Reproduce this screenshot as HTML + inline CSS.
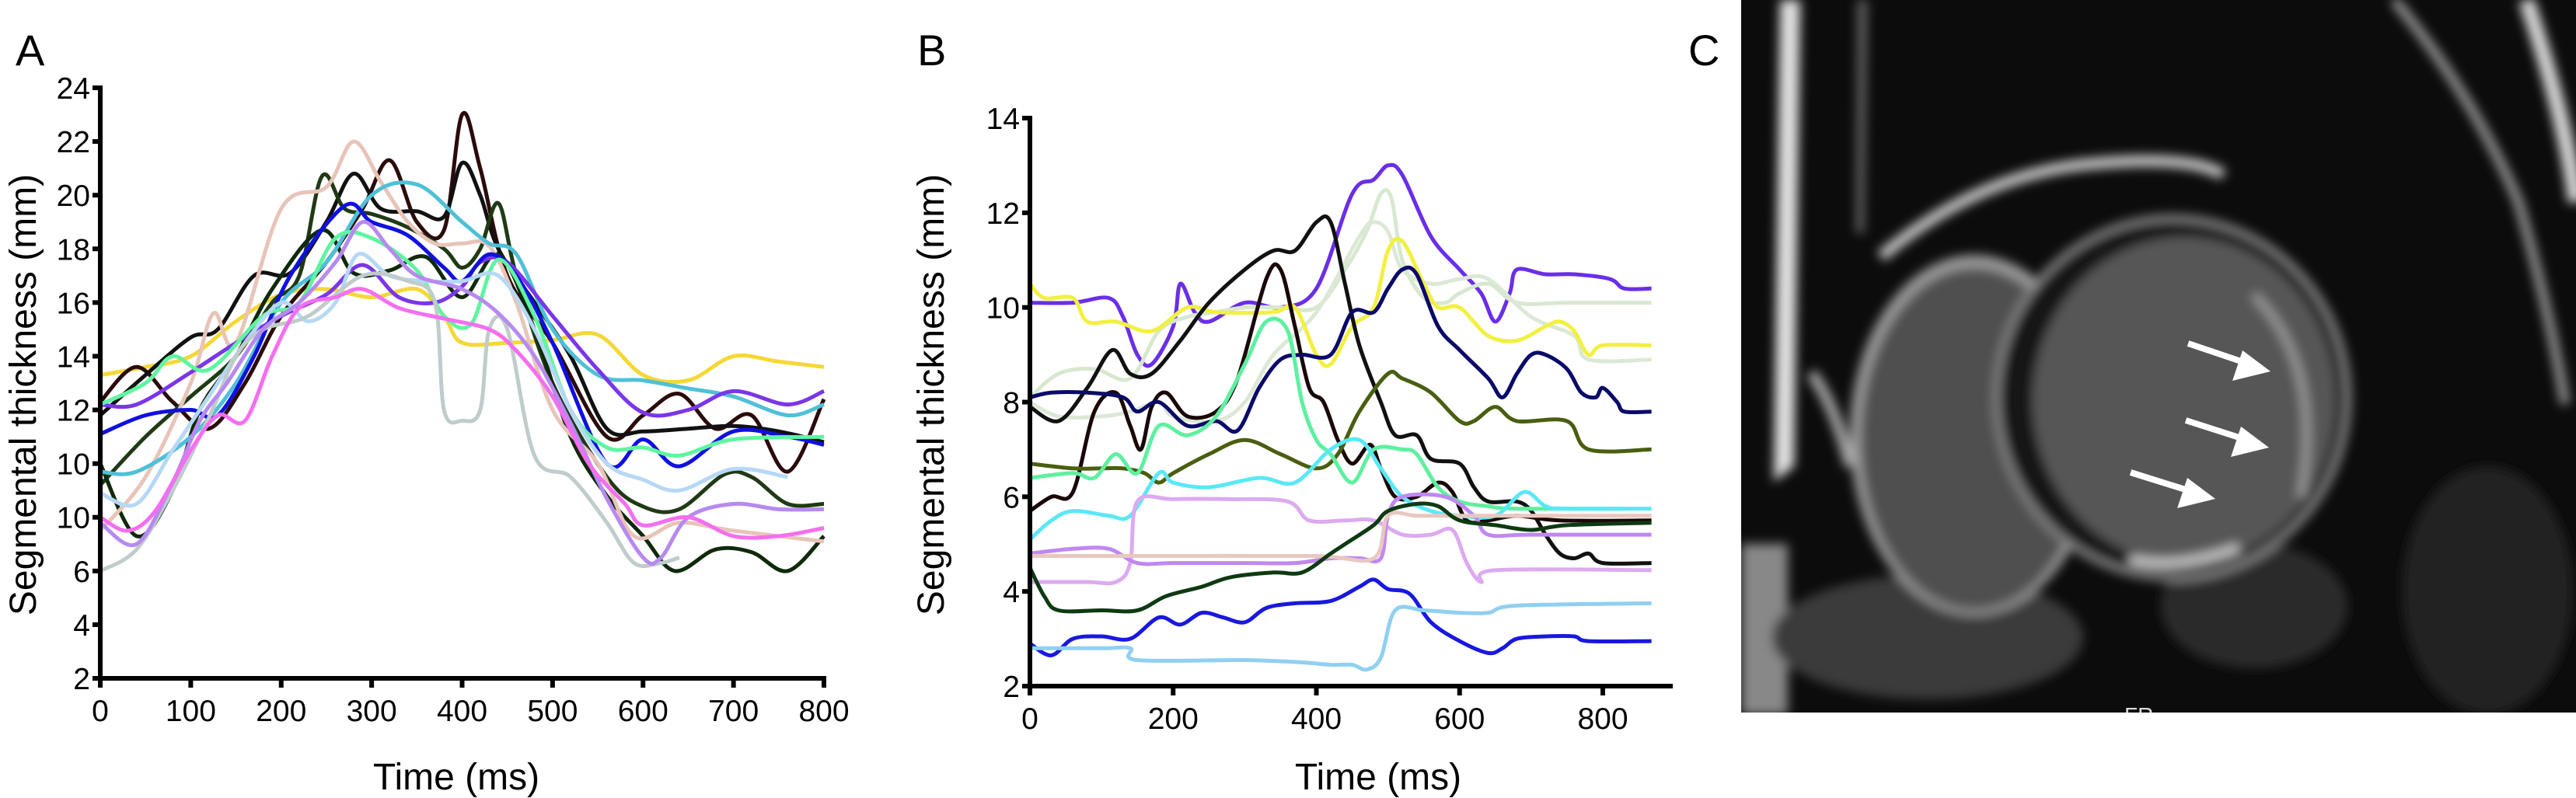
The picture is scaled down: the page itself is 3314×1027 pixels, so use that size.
<!DOCTYPE html>
<html><head><meta charset="utf-8"><style>
html,body{margin:0;padding:0;background:#fff;}
svg{display:block;font-family:"Liberation Sans",sans-serif;}
</style></head><body>
<svg id="fig" width="3314" height="1027" viewBox="0 0 3314 1027">
<text x="20" y="84" font-size="56">A</text>
<text x="1180" y="84" font-size="56">B</text>
<text x="2172" y="84" font-size="56">C</text>
<g id="chartA"></g>
<g id="chartB"></g>
<g id="mri">
 <defs>
  <clipPath id="mclip"><rect x="2240" y="0" width="1074" height="917"/></clipPath>
  <filter id="blur6" x="-20%" y="-20%" width="140%" height="140%"><feGaussianBlur stdDeviation="7"/></filter>
 </defs>
 <g clip-path="url(#mclip)">
  <rect x="2240" y="0" width="1074" height="917" fill="#0c0c0c"/>
  <g filter="url(#blur6)">
   <rect x="2240" y="700" width="60" height="220" fill="#888"/>
   <path d="M2290 0 L2316 0 L2308 600 L2282 620 Z" fill="#e0e0e0"/>
   <path d="M2390 0 L2402 0 L2398 300 L2388 300 Z" fill="#666"/>
   <ellipse cx="2480" cy="820" rx="200" ry="80" fill="#3a3a3a"/>
   <ellipse cx="2900" cy="780" rx="120" ry="80" fill="#2a2a2a"/>
   <ellipse cx="3200" cy="760" rx="110" ry="160" fill="#242424"/>
   <ellipse cx="2540" cy="560" rx="160" ry="232" fill="#9a9a9a"/>
   <ellipse cx="2540" cy="565" rx="146" ry="220" fill="#505050"/>
   <ellipse cx="2795" cy="512" rx="230" ry="236" fill="#8a8a8a"/>
   <ellipse cx="2795" cy="512" rx="222" ry="228" fill="#151515"/>
   <ellipse cx="2810" cy="515" rx="195" ry="210" fill="#565656"/>
   <path d="M2420 330 Q2550 220 2700 210 Q2820 200 2860 225" stroke="#cfcfcf" stroke-width="14" fill="none"/>
   <path d="M3080 0 Q3180 120 3240 260 Q3280 400 3300 520" stroke="#999" stroke-width="12" fill="none"/>
   <path d="M3250 0 Q3300 150 3314 260" stroke="#d8d8d8" stroke-width="20" fill="none"/>
   <path d="M2330 480 Q2360 520 2380 600" stroke="#aaa" stroke-width="14" fill="none"/>
   <path d="M2740 720 Q2800 735 2880 705" stroke="#c8c8c8" stroke-width="12" fill="none"/>
   <path d="M2900 380 Q2990 470 2960 640" stroke="#a0a0a0" stroke-width="9" fill="none"/>
  </g>
  <text x="2733" y="930" font-size="28" fill="#ddd">FR</text>
  <g stroke="#fff" stroke-width="8" fill="#fff">
   <line x1="2815" y1="442" x2="2895" y2="469"/><polygon points="2921,478 2872,490 2885,451" stroke="none"/>
   <line x1="2812" y1="541" x2="2893" y2="567"/><polygon points="2919,576 2870,588 2883,549" stroke="none"/>
   <line x1="2741" y1="608" x2="2824" y2="634"/><polygon points="2850,642 2801,654 2814,615" stroke="none"/>
  </g>
 </g>
</g>
</svg>
<script>
// ---------- Panel A data ----------
const aXTicks = [0,100,200,300,400,500,600,700,800];
const aYTicks = [2,4,6,8,10,12,14,16,18,20,22,24];
const aYTickLabels = ["2","4","6","10","10","12","14","16","18","20","22","24"];
const aColors = ["#f5d836","#2b0b0b","#111111","#1f3a14","#0f2a0a","#e8c4b8","#4fc0d8","#7a36e8","#1010e0","#5ff5a0","#b5d8f5","#c0cccc","#b68af0","#f56ef0"];
const aTimes = [
 [0,50,100,150,200,250,300,350,380,400,450,500,550,600,650,700,750,800],
 [0,40,80,120,160,200,250,290,320,350,380,400,420,450,500,560,600,640,680,720,760,800],
 [0,50,100,130,170,210,250,280,310,350,380,400,420,440,480,520,560,600,650,700,750,800],
 [0,50,100,150,190,220,245,270,300,340,380,400,420,440,460,500,560,600,640,690,720,760,800],
 [0,40,80,110,150,190,245,280,320,360,400,440,480,520,560,600,635,680,720,760,800],
 [0,50,100,125,150,200,250,280,310,340,370,400,430,460,500,550,590,640,700,800],
 [0,40,100,150,200,250,300,350,400,430,460,500,550,600,650,700,760,800],
 [0,40,100,150,200,250,290,330,370,400,420,450,500,550,600,650,700,760,800],
 [0,50,100,130,170,210,270,300,340,380,400,430,460,500,560,600,640,700,760,800],
 [0,50,80,120,180,220,260,300,350,380,410,440,480,520,560,600,640,700,800],
 [0,40,80,120,160,200,230,260,285,320,360,400,440,480,520,560,600,640,700,760],
 [0,40,80,120,150,180,230,290,340,370,380,400,420,430,450,480,520,560,590,620,640],
 [0,40,80,110,140,180,220,260,290,320,350,400,440,480,520,560,600,620,650,700,750,800],
 [0,30,60,100,130,160,190,220,260,290,330,380,430,460,500,540,580,600,650,700,750,800]
];
const aValues = [
 [13.3,13.6,14,15.3,16.3,16.5,16.2,16.5,15.5,14.5,14.5,14.6,14.8,13.3,13.1,14,13.8,13.6],
 [12.3,13.6,12.3,11.3,13,15.5,17.5,19.5,21.3,19,18.7,23,21,17,14.5,11,11.8,12.6,11.3,11.8,9.7,12.4],
 [11.8,13.3,14.7,15,17,17.1,19,20.8,19.5,19.4,19.2,21.2,20,18,16,14,11.3,11.2,11.3,11.4,11.2,10.8],
 [9.2,11,12.5,14,16,17,20.7,19.5,19.3,18.8,18,17.3,18,19.7,17,13,9.5,8.4,8.3,9.6,9.5,8.5,8.5],
 [10,7.3,9,12,14,16.5,18.7,17.1,17.2,17.7,16.2,17.8,15,11,8.8,7.3,6,6.8,6.7,6,7.3],
 [7.5,9.5,13,15.6,14.5,19.5,20.3,22,20.5,19,18.2,18.2,18.1,16,12,10,7.3,7.8,7.5,7.1],
 [9.7,9.7,11,13,16,17.5,20,20.4,19,18.2,17.8,15,13.3,13.1,12.8,12.5,11.8,12.2],
 [12.2,12.2,13.4,14.5,15.5,16.3,17.4,16.2,16,16.6,17.5,17.5,15.5,13.5,11.9,12,12.7,12.2,12.7],
 [11.1,11.8,12,11.8,14,17,19.6,19,18.5,17.3,16.8,17.8,17,14.5,10,10.9,9.9,11.2,11,10.7],
 [12.2,13,14,13.5,15.5,16,18.4,18.4,17.2,15.5,15.2,17.6,15.5,12,10.6,10.6,10.3,10.9,11],
 [8.9,8.5,10.5,12.5,14.5,16,15.3,16,17.8,17,16.8,16.8,17,15,12,10,9.4,9,9.8,9.5],
 [6,6.8,9,11.7,14,15,15.5,17,16.8,16,12,11.6,12,15,15,10.3,9.5,7.8,6.3,6.3,6.5],
 [7.8,7,9.3,11.6,13,15,16,17.5,19,18,17,16.5,15.6,14,11.5,8.7,6.5,6.5,8,8.5,8.3,8.3],
 [8,7.5,8.2,10.5,11.8,11.6,14,15.8,16.2,16.5,15.8,15.4,15,14.2,12.5,10,8.5,7.7,8,7.3,7.3,7.6]
];
// ---------- Panel B data ----------
const bXTicks = [0,200,400,600,800];
const bYTicks = [2,4,6,8,10,12,14];
const bYTickLabels = ["2","4","6","8","10","12","14"];
const bColors = ["#6a2ee8","#d8e8d0","#dce8d6","#f2f040","#111111","#1a0808","#0a0a6a","#4a5e10","#5ef0a0","#5ae8f5","#dcaaf0","#c088f0","#e8c8c0","#0e3a12","#1818e0","#90d0f0"];
const bTimes = [
 [0,60,110,130,150,170,200,210,230,250,300,350,400,450,480,500,520,560,600,630,650,670,680,720,760,810,830,868],
 [0,40,90,140,180,220,260,300,350,400,440,470,490,505,520,550,580,600,640,680,750,868],
 [0,40,100,140,180,200,260,300,340,400,460,480,500,520,560,600,640,700,760,780,868],
 [0,20,60,80,120,170,220,260,340,370,400,420,450,480,500,520,550,570,600,640,680,720,740,760,780,800,868],
 [0,40,80,115,140,170,210,250,300,340,370,400,420,440,460,490,510,540,560,600,620,640,680,700,720,740,760,780,800,868],
 [0,30,60,90,120,140,155,170,190,220,260,290,330,350,370,390,410,430,450,475,490,510,540,570,590,610,640,680,740,868],
 [0,30,80,130,150,180,220,260,290,320,350,380,420,450,480,500,520,540,570,600,640,660,680,700,720,750,770,790,800,820,830,868],
 [0,60,100,130,160,180,200,250,300,350,400,430,460,500,520,560,600,620,650,680,750,780,868],
 [0,60,90,120,150,180,220,260,300,330,360,380,400,420,450,480,520,540,570,600,640,680,830],
 [0,30,60,110,140,180,200,250,320,370,420,460,490,520,560,600,650,690,720,750,868],
 [0,80,120,140,150,200,280,360,390,440,480,520,560,590,610,630,650,868],
 [0,60,110,150,200,300,370,420,460,490,500,520,580,620,640,700,868],
 [0,200,400,480,500,540,600,868],
 [0,20,40,100,150,190,240,280,340,380,420,440,480,500,540,570,600,650,700,750,868],
 [0,30,60,100,140,180,210,240,270,300,330,370,420,460,480,500,530,560,600,640,660,680,720,760,780,868],
 [0,100,140,150,300,380,420,450,470,490,510,550,600,640,680,868]
];
const bValues = [
 [10.1,10.1,10.2,9.8,9,8.8,9.6,10.5,9.9,9.7,10.1,10,10.4,12.4,12.7,13,12.8,11.5,10.8,10.3,9.7,10.3,10.8,10.7,10.7,10.6,10.4,10.4],
 [8.1,8.6,8.7,8.5,9.5,9.8,9.9,10,10,10,10.8,11.6,12.4,12.3,11,10.2,10.1,10.3,10.5,10.1,10.1,10.1],
 [8,7.7,7.7,7.8,8,7.7,7.6,8,9,9.9,11.5,11.8,11.6,10.8,10.5,10.6,10.6,9.8,9.4,8.9,8.9],
 [10.5,10.2,10.2,9.7,9.7,9.5,10,9.9,9.9,10,9,8.8,9.6,10,11.2,11.4,10.5,10,10,9.4,9.3,9.6,9.7,9.5,9,9.2,9.2],
 [7.9,7.6,8.3,9.1,8.6,8.6,9.3,10.1,10.8,11.2,11.2,11.8,11.8,10.5,9.2,8,7.3,7.3,6.8,6.7,6.2,5.9,5.9,5.7,5.2,4.8,4.7,4.8,4.6,4.6],
 [5.7,6,6.1,7.8,8.2,7.5,7,7.9,8.2,7.7,7.8,8.5,10.6,10.8,9.6,8.3,8,7.2,6.7,7.1,6.6,6,6,6.3,6.1,5.5,5.5,5.6,5.5,5.5],
 [8.1,8.2,8.2,8.1,7.8,8,7.5,7.6,7.4,8.3,8.9,9,9,9.9,9.9,10.4,10.8,10.7,9.6,9.1,8.5,8.1,8.6,9,9,8.7,8.2,8.1,8.3,8,7.8,7.8],
 [6.7,6.6,6.6,6.6,6.5,6.3,6.5,6.9,7.2,6.9,6.6,6.9,7.8,8.6,8.5,8.2,7.6,7.6,7.9,7.6,7.6,7,7],
 [6.4,6.5,6.4,6.9,6.5,7.5,7.3,7.7,8.8,9.7,9.5,8,7.2,6.9,6.3,7,7,6.9,6.2,5.9,5.8,5.75,5.75],
 [5.1,5.5,5.7,5.6,5.6,6.5,6.3,6.2,6.4,6.3,7,7.2,6.6,6,5.7,5.6,5.6,6.1,5.8,5.75,5.75],
 [4.2,4.2,4.2,4.6,5.9,5.95,5.95,5.9,5.5,5.5,5.5,5.2,5.2,5.3,4.6,4.2,4.45,4.45],
 [4.8,4.9,4.9,4.6,4.6,4.6,4.6,4.7,4.7,4.7,5.6,6,6,5.6,5.2,5.2,5.2],
 [4.75,4.75,4.75,4.7,5.6,5.6,5.6,5.6],
 [4.5,3.9,3.6,3.6,3.6,3.9,4.1,4.3,4.4,4.4,4.8,5,5.4,5.7,5.85,5.8,5.5,5.4,5.3,5.4,5.45],
 [2.9,2.65,3,3.05,3,3.45,3.3,3.55,3.45,3.35,3.65,3.75,3.8,4.1,4.25,4.05,3.95,3.35,2.95,2.7,2.8,3,3.05,3.05,2.95,2.95],
 [2.8,2.8,2.8,2.55,2.55,2.5,2.45,2.45,2.35,2.6,3.6,3.6,3.55,3.55,3.7,3.75]
];

const NS = "http://www.w3.org/2000/svg";
function mk(tag, attrs, parent){
  const e = document.createElementNS(NS, tag);
  for (const k in attrs) e.setAttribute(k, attrs[k]);
  parent.appendChild(e);
  return e;
}
function smoothPath(pts){
  let d = "M" + pts[0][0].toFixed(1) + " " + pts[0][1].toFixed(1);
  for (let i = 0; i < pts.length - 1; i++){
    const p0 = pts[Math.max(0,i-1)], p1 = pts[i], p2 = pts[i+1], p3 = pts[Math.min(pts.length-1,i+2)];
    const c1x = p1[0] + (p2[0]-p0[0])/6, c1y = p1[1] + (p2[1]-p0[1])/6;
    const c2x = p2[0] - (p3[0]-p1[0])/6, c2y = p2[1] - (p3[1]-p1[1])/6;
    d += " C" + c1x.toFixed(1)+" "+c1y.toFixed(1)+" "+c2x.toFixed(1)+" "+c2y.toFixed(1)+" "+p2[0].toFixed(1)+" "+p2[1].toFixed(1);
  }
  return d;
}
function drawChart(g, cfg, times, values, colors, xTicks, yTicks, yLabels){
  const sx = v => cfg.x0 + (v - cfg.xmin) / (cfg.xmax - cfg.xmin) * (cfg.x1 - cfg.x0);
  const sy = v => cfg.y0 - (v - cfg.ymin) / (cfg.ymax - cfg.ymin) * (cfg.y0 - cfg.y1);
  for (let s = 0; s < values.length; s++){
    const pts = times[s].map((t,i) => [sx(t), sy(values[s][i])]);
    const p = mk("path", {d: smoothPath(pts), fill:"none", stroke: colors[s], "stroke-width": 5, "stroke-linejoin":"round"}, g);
    
    
  }
  const ax = mk("path", {d:"M"+cfg.x0+" "+sy(yTicks[yTicks.length-1])+" V"+cfg.y0+" H"+cfg.axisEnd, stroke:"#000","stroke-width":6, fill:"none","stroke-linecap":"square"}, g);
  
  
  yTicks.forEach((v,i) => {
    const y = sy(v);
    const t = mk("line", {x1:cfg.x0-10, x2:cfg.x0, y1:y, y2:y, stroke:"#000","stroke-width":6}, g);
    
    
    const l = mk("text", {x:cfg.x0-13, y:y+14, "font-size":39, "text-anchor":"end"}, g);
    l.textContent = yLabels[i];
    
    
  });
  xTicks.forEach(v => {
    const x = sx(v);
    const t = mk("line", {x1:x, x2:x, y1:cfg.y0, y2:cfg.y0+12, stroke:"#000","stroke-width":6}, g);
    
    
    const l = mk("text", {x:x, y:cfg.y0+55, "font-size":39, "text-anchor":"middle"}, g);
    l.textContent = String(v);
    
    
  });
  const xt = mk("text", {x:cfg.xTitleX, y:1016, "font-size":48, "text-anchor":"middle"}, g);
  xt.textContent = "Time (ms)";
  
  
  const yt = mk("text", {x:0, y:0, "font-size":48, "text-anchor":"middle", transform:"translate("+cfg.yTitleX+",508) rotate(-90)"}, g);
  yt.textContent = "Segmental thickness (mm)";
  
  
}
drawChart(document.getElementById("chartA"),
  {x0:129, x1:1060, xmin:0, xmax:800, y0:873, y1:113, ymin:2, ymax:24, axisEnd:1060, xTitleX:587, yTitleX:46},
  aTimes, aValues, aColors, aXTicks, aYTicks, aYTickLabels);
drawChart(document.getElementById("chartB"),
  {x0:1325, x1:2062, xmin:0, xmax:800, y0:883, y1:152, ymin:2, ymax:14, axisEnd:2149, xTitleX:1773, yTitleX:1214},
  bTimes, bValues, bColors, bXTicks, bYTicks, bYTickLabels);
</script>
</body></html>
